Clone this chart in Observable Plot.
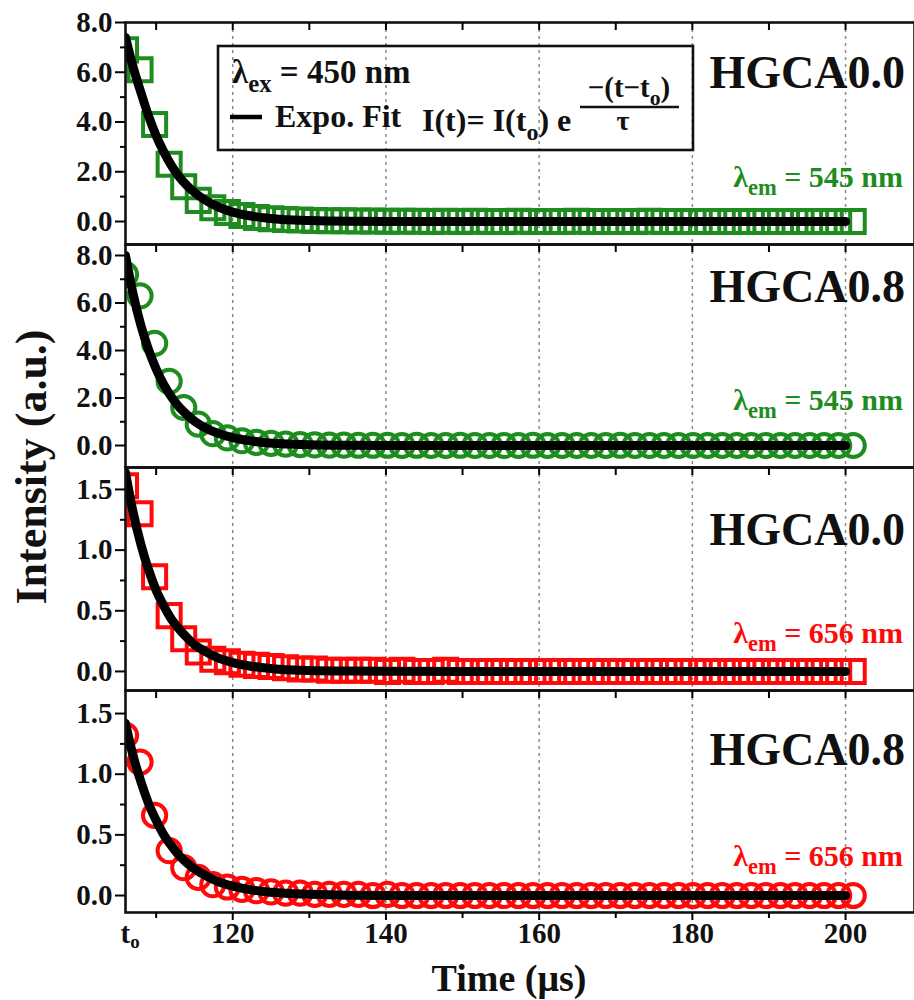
<!DOCTYPE html>
<html><head><meta charset="utf-8">
<script src="https://cdn.jsdelivr.net/npm/d3@7"></script>
<script src="https://cdn.jsdelivr.net/npm/@observablehq/plot@0.6"></script>
<style>
body{margin:0;background:#fff;}
#wrap{position:relative;width:914px;height:1000px;overflow:hidden;background:#fff;}
#wrap svg{position:absolute;left:0;}
</style></head><body><div id="wrap"></div>
<script>
// ---------- data ----------
const times = [106.0,107.9,109.8,111.7,113.6,115.5,117.4,119.3,121.2,123.1,
  125.0,126.9,128.8,130.7,132.6,134.5,136.4,138.3,140.2,142.1,
  144.0,145.9,147.8,149.7,151.6,153.5,155.4,157.3,159.2,161.1,
  163.0,164.9,166.8,168.7,170.6,172.5,174.4,176.3,178.2,180.1,
  182.0,183.9,185.8,187.7,189.6,191.5,193.4,195.3,197.2,199.1,201.0];
const hgca00_545 = [6.9,6.1,3.9,2.3,1.4,0.85,0.55,0.36,0.24,0.16,
  0.11,0.08,0.06,0.04,0.03,0.03,0.02,0.02,0.01,0.01,
  0.01,0.0,0.01,0.0,0.01,0.0,0.0,0.01,0.0,0.0,
  0.0,0.01,0.0,0.0,0.0,0.0,0.01,0.0,0.0,0.0,
  0.0,0.0,0.0,0.0,0.0,0.0,0.0,0.0,0.0,0.0,0.0];
const hgca08_545 = [7.2,6.3,4.3,2.7,1.6,0.9,0.5,0.32,0.2,0.13,
  0.09,0.06,0.04,0.03,0.02,0.02,0.01,0.01,0.01,0.0,
  0.01,0.0,0.0,0.01,0.0,0.0,0.0,0.0,0.01,0.0,
  0.0,0.0,0.0,0.0,0.01,0.0,0.0,0.0,0.0,0.0,
  0.0,0.0,0.0,0.0,0.0,0.0,0.0,0.0,0.0,0.0,0.0];
const hgca00_656 = [1.53,1.30,0.78,0.46,0.27,0.16,0.10,0.08,0.06,0.05,
  0.04,0.03,0.02,0.02,0.01,0.01,0.01,0.01,0.0,0.01,
  0.0,0.0,0.01,0.0,0.0,0.0,0.0,0.0,0.0,0.0,
  0.0,0.0,0.0,0.0,0.0,0.0,0.0,0.0,0.0,0.0,
  0.0,0.0,0.0,0.0,0.0,0.0,0.0,0.0,0.0,0.0,0.0];
const hgca08_656 = [1.32,1.10,0.66,0.37,0.23,0.15,0.09,0.07,0.05,0.04,
  0.03,0.02,0.02,0.01,0.01,0.01,0.01,0.0,0.01,0.0,
  0.0,0.0,0.0,0.0,0.0,0.0,0.0,0.0,0.0,0.0,
  0.0,0.0,0.0,0.0,0.0,0.0,0.0,0.0,0.0,0.0,
  0.0,0.0,0.0,0.0,0.0,0.0,0.0,0.0,0.0,0.0,0.0];

const fitTimes = [106,107,108,109,110,111,112,113,114,115,116,118,120,122,124,126,128,130,135,140,150,160,170,180,190,200];
const fit00_545 = [7.4,6.2,5.2,4.25,3.45,2.8,2.25,1.8,1.45,1.17,0.94,0.6,0.38,0.24,0.15,0.095,0.06,0.04,0.012,0.004,0,0,0,0,0,0];
const fit08_545 = [8.0,6.37,5.07,4.04,3.22,2.56,2.04,1.62,1.30,1.03,0.82,0.52,0.33,0.21,0.13,0.085,0.054,0.034,0.011,0.004,0,0,0,0,0,0];
const fit00_656 = [1.64,1.31,1.05,0.84,0.67,0.54,0.43,0.35,0.28,0.22,0.18,0.114,0.073,0.047,0.03,0.019,0.012,0.008,0.003,0.001,0,0,0,0,0,0];
const fit08_656 = [1.42,1.15,0.94,0.76,0.62,0.50,0.41,0.33,0.27,0.22,0.18,0.117,0.077,0.051,0.033,0.022,0.015,0.01,0.003,0.001,0,0,0,0,0,0];

const gridTicks = [120,140,160,180,200];
const minorXTicks = [110,130,150,170,190];
const topTicks = [110,120,130,140,150,160,170,180,190,200];
const bigMajor = [0,2,4,6,8], bigMinor = [1,3,5,7];
const smallMajor = [0,0.5,1.0,1.5], smallMinor = [0.25,0.75,1.25];

// ---------- style ----------
const FONT = "'Liberation Serif','Times New Roman',serif";
const GREEN = "#1e8c1e", RED = "#ff0a0a";

const panels = [
  {top:0,   height:244, mt:22, mb:0,  domain:[-0.924,8.0],   major:bigMajor,   minor:bigMinor,   vals:hgca00_545, fit:fit00_545, symbol:"square", color:GREEN},
  {top:244, height:223, mt:0,  mb:0,  domain:[-0.926,8.463], major:bigMajor,   minor:bigMinor,   vals:hgca08_545, fit:fit08_545, symbol:"circle", color:GREEN},
  {top:467, height:223, mt:0,  mb:0,  domain:[-0.157,1.681], major:smallMajor, minor:smallMinor, vals:hgca00_656, fit:fit00_656, symbol:"square", color:RED},
  {top:690, height:310, mt:0,  mb:88, domain:[-0.140,1.690], major:smallMajor, minor:smallMinor, vals:hgca08_656, fit:fit08_656, symbol:"circle", color:RED}
];

const wrap = document.getElementById("wrap");
const txt = {fontFamily: FONT, fontWeight: "bold", fill: "#111"};

panels.forEach((p, idx) => {
  const pts = times.map((t, i) => ({t, v: p.vals[i]}));
  const fitPts = fitTimes.map((t, i) => ({t, v: p.fit[i]}));
  const marks = [
    Plot.gridX(gridTicks, {stroke: "#8a8a8a", strokeOpacity: 1, strokeWidth: 1.5, strokeDasharray: "3,4"}),
    Plot.dot(pts, {x: "t", y: "v", symbol: p.symbol, r: p.symbol === "square" ? 13 : 11.6,
      stroke: p.color, strokeWidth: 4, fill: "none", clip: true}),
    Plot.line(fitPts, {x: "t", y: "v", stroke: "#000", strokeWidth: 9, curve: "monotone-x",
      strokeLinecap: "round", clip: true}),
    Plot.frame({stroke: "#111", strokeWidth: 2.6}),
    Plot.axisY(p.major, {anchor: "left", tickSize: 10, tickPadding: 3, strokeWidth: 2,
      tickFormat: d3.format(".1f"), fontSize: 29, ...txt, label: null}),
    Plot.axisY(p.minor, {anchor: "left", tickSize: 5, strokeWidth: 2, tickFormat: () => "", label: null}),
    Plot.axisX(topTicks, {anchor: "top", tickSize: -7, strokeWidth: 2, tickFormat: () => "", label: null})
  ];
  if (idx === 3) {
    marks.push(
      Plot.axisX(gridTicks, {anchor: "bottom", tickSize: 8, tickPadding: 2, strokeWidth: 2,
        fontSize: 29, ...txt, label: null}),
      Plot.axisX(minorXTicks, {anchor: "bottom", tickSize: 6, strokeWidth: 2, tickFormat: () => "", label: null}),
      Plot.axisX([106], {anchor: "bottom", tickSize: 0, tickPadding: 10, tickFormat: () => "t",
        textAnchor: "start", dx: -5, fontSize: 29, ...txt, label: null})
    );
  }
  const svg = Plot.plot({
    width: 914, height: p.height,
    marginLeft: 125, marginRight: 0, marginTop: p.mt, marginBottom: p.mb,
    x: {domain: [106, 209]},
    y: {domain: p.domain},
    style: {background: "transparent", overflow: "visible", fontFamily: FONT},
    marks
  });
  svg.style.top = p.top + "px";
  svg.style.overflow = "visible";
  wrap.appendChild(svg);
  if (idx === 3) {
    d3.select(svg).selectAll("text").filter(function() { return this.textContent === "t"; })
      .append("tspan").attr("font-size", 19).attr("dy", "0.25em").text("o");
  }
});

// ---------- annotations overlay ----------
const ov = d3.select(wrap).append("svg").attr("width", 914).attr("height", 1000)
  .style("top", "0px").style("pointer-events", "none")
  .attr("font-family", FONT).attr("font-weight", "bold");

function rich(x, y, anchor, size, color, parts) {
  const t = ov.append("text").attr("x", x).attr("y", y).attr("text-anchor", anchor)
    .attr("font-size", size).attr("fill", color);
  let shift = 0;
  parts.forEach(([s, kind]) => {
    const sp = t.append("tspan").text(s);
    if (kind === "sub") {
      const d = size * 0.28;
      sp.attr("font-size", size * 0.75).attr("dy", d - shift);
      shift = d;
    } else if (shift) {
      sp.attr("dy", -shift);
      shift = 0;
    }
  });
  return t;
}

// legend box
ov.append("rect").attr("x", 218).attr("y", 46).attr("width", 475).attr("height", 104)
  .attr("fill", "none").attr("stroke", "#111").attr("stroke-width", 2.6);
rich(232, 83, "start", 33, "#111", [["λ"], ["ex", "sub"], [" = 450 nm"]]);
ov.append("line").attr("x1", 230).attr("x2", 262).attr("y1", 117).attr("y2", 117)
  .attr("stroke", "#000").attr("stroke-width", 4.5);
rich(275, 127, "start", 32, "#111", [["Expo. Fit"]]);
rich(422, 131, "start", 32, "#111", [["I(t)= I(t"], ["o", "sub"], [") e"]]);
rich(629, 97, "middle", 29, "#111", [["\u2212(t\u2212t"], ["o", "sub"], [")"]]);
ov.append("line").attr("x1", 580).attr("x2", 679).attr("y1", 107).attr("y2", 107)
  .attr("stroke", "#111").attr("stroke-width", 2.5);
rich(623, 130, "middle", 28, "#111", [["τ"]]);

// panel labels
const panelNames = ["HGCA0.0", "HGCA0.8", "HGCA0.0", "HGCA0.8"];
const nameBase = [88, 302, 545, 765];
const emLabels = ["545 nm", "545 nm", "656 nm", "656 nm"];
const emBase = [187, 410, 643, 866];
panels.forEach((p, i) => {
  rich(905, nameBase[i], "end", 46, "#111", [[panelNames[i]]]);
  rich(903, emBase[i], "end", 30, p.color, [["λ"], ["em", "sub"], [" = " + emLabels[i]]]);
});

// axis titles
ov.append("text").attr("x", 509).attr("y", 991).attr("text-anchor", "middle")
  .attr("font-size", 38).attr("fill", "#111").text("Time (μs)");
ov.append("text").attr("transform", "translate(46,467) rotate(-90)").attr("text-anchor", "middle")
  .attr("font-size", 44).attr("fill", "#111").text("Intensity (a.u.)");
</script></body></html>
